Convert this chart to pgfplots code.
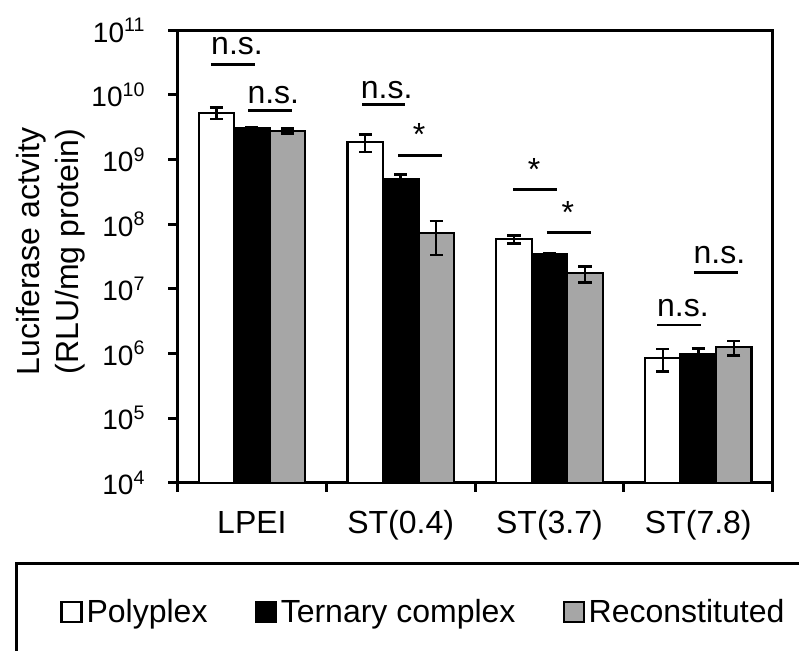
\documentclass[border=0pt]{standalone}
\usepackage{fontspec}
\setmainfont{Liberation Sans}
\usepackage{pgfplots}
\usepackage{pgfplotstable}
\pgfplotsset{compat=1.18}
\definecolor{barGray}{RGB}{166,166,166}

\pgfplotstableread{
x val err
0 5.3e9 1.05e9
1 1.87e9 0.56e9
2 5.83e7 0.8e7
3 8.41e5 3.2e5
}\polyplex
\pgfplotstableread{
x val err
0 3.05e9 0.1e9
1 5.0e8 0.9e8
2 3.46e7 0.1e7
3 9.8e5 2.2e5
}\ternary
\pgfplotstableread{
x val err
0 2.77e9 0.25e9
1 7.22e7 3.9e7
2 1.74e7 0.48e7
3 1.245e6 3.1e5
}\recon

\begin{document}
\begin{tikzpicture}
\begin{axis}[
  scale only axis, width=297.6pt, height=226.2pt,
  font=\fontsize{16}{19.5}\selectfont,
  ymode=log, log basis y=10, ymin=1e4, ymax=1e11,
  log origin=infty,
  xmin=-0.5, xmax=3.5,
  ybar=0pt, bar width=17.75pt,
  axis line style={line width=1.5pt},
  ytick={1e4,1e5,1e6,1e7,1e8,1e9,1e10,1e11},
  yticklabels={10\textsuperscript{4},10\textsuperscript{5},10\textsuperscript{6},10\textsuperscript{7},10\textsuperscript{8},10\textsuperscript{9},10\textsuperscript{10},10\textsuperscript{11}},
  yticklabel style={font=\fontsize{14}{16.8}\selectfont, anchor=east, xshift=-8pt},
  minor ytick={},
  ytick pos=left, xtick pos=bottom,
  tick align=outside,
  major tick length=4.5pt,
  tick style={black, line width=1.5pt},
  xtick={-0.5,0.5,1.5,2.5,3.5},
  xticklabels={},
  extra x ticks={0,1,2,3},
  extra x tick labels={LPEI,ST(0.4),ST(3.7),ST(7.8)},
  extra x tick style={major tick length=0pt, xticklabel style={anchor=base, yshift=-25.5pt}},
  ylabel={Luciferase actvity\\(RLU/mg protein)},
  ylabel style={align=center, at={(axis description cs:-0.2125,0.511)}, anchor=center},
  legend columns=3,
  legend style={at={(axis description cs:-0.1974,-0.2858)}, anchor=west, draw=none, fill=none,
    inner sep=0pt, font=\fontsize{16}{19.5}\selectfont,
    /tikz/every even column/.append style={column sep=21.5pt}},
  legend image code/.code={\draw[#1] (0pt,-5pt) rectangle (10pt,5pt);},
  clip=false,
]
\addplot[fill=white, draw=black, line width=1.1pt,
  error bars/.cd, y dir=both, y explicit,
  error bar style={line width=1.25pt, black},
  error mark options={rotate=90, line width=1.25pt, mark size=3.3pt, black}]
  table[x=x, y=val, y error=err] {\polyplex};
\addlegendentry{Polyplex}
\addplot[fill=black, draw=black, line width=1.1pt,
  error bars/.cd, y dir=both, y explicit,
  error bar style={line width=1.25pt, black},
  error mark options={rotate=90, line width=1.25pt, mark size=3.3pt, black}]
  table[x=x, y=val, y error=err] {\ternary};
\addlegendentry{Ternary complex}
\addplot[fill=barGray, draw=black, line width=1.1pt,
  error bars/.cd, y dir=both, y explicit,
  error bar style={line width=1.25pt, black},
  error mark options={rotate=90, line width=1.25pt, mark size=3.3pt, black}]
  table[x=x, y=val, y error=err] {\recon};
\addlegendentry{Reconstituted}

% significance marks
\draw[line width=1.3pt] (axis cs:-0.275,2.98e10) -- (axis cs:0.021,2.98e10);
\node[anchor=base, inner sep=0pt] at (axis cs:-0.100,4.15e10) {n.s.};
\draw[line width=1.3pt] (axis cs:-0.026,5.70e9) -- (axis cs:0.270,5.70e9);
\node[anchor=base, inner sep=0pt] at (axis cs:0.144,7.41e9) {n.s.};
\draw[line width=1.3pt] (axis cs:0.740,7.16e9) -- (axis cs:1.029,7.16e9);
\node[anchor=base, inner sep=0pt] at (axis cs:0.906,8.87e9) {n.s.};
\draw[line width=1.3pt] (axis cs:0.982,1.16e9) -- (axis cs:1.277,1.16e9);
\node[anchor=base, inner sep=0pt] at (axis cs:1.123,1.64e9) {*};
\draw[line width=1.3pt] (axis cs:1.755,3.47e8) -- (axis cs:2.051,3.47e8);
\node[anchor=base, inner sep=0pt] at (axis cs:1.896,4.71e8) {*};
\draw[line width=1.3pt] (axis cs:1.983,7.38e7) -- (axis cs:2.279,7.38e7);
\node[anchor=base, inner sep=0pt] at (axis cs:2.124,1.007e8) {*};
\draw[line width=1.3pt] (axis cs:2.723,2.75e6) -- (axis cs:3.018,2.75e6);
\node[anchor=base, inner sep=0pt] at (axis cs:2.897,3.79e6) {n.s.};
\draw[line width=1.3pt] (axis cs:2.971,1.80e7) -- (axis cs:3.267,1.80e7);
\node[anchor=base, inner sep=0pt] at (axis cs:3.142,2.48e7) {n.s.};
\end{axis}
\draw[line width=1.5pt] ([xshift=-80.25pt,yshift=-40.5pt]current axis.south west) rectangle ([xshift=340pt,yshift=-130pt]current axis.south west);
\pgfresetboundingbox
\path[use as bounding box] ([xshift=-88.75pt,yshift=-84.15pt]current axis.south west) rectangle ([xshift=310.75pt,yshift=241.35pt]current axis.south west);
\end{tikzpicture}
\end{document}
